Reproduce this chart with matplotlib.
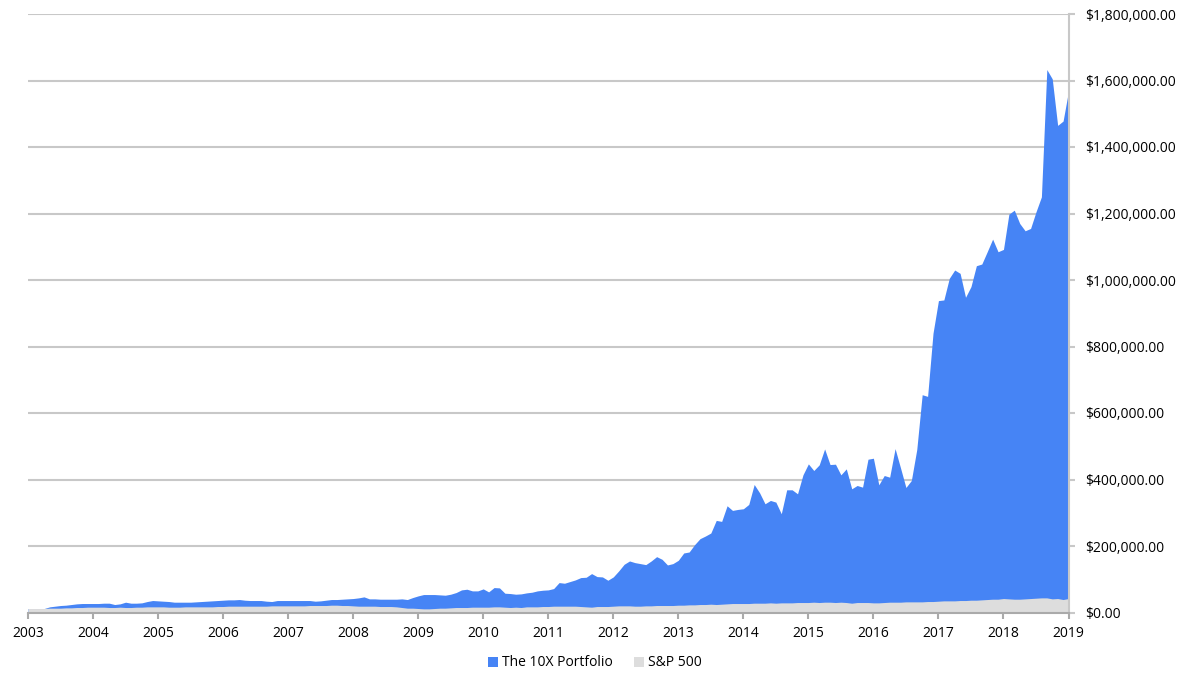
import matplotlib
matplotlib.use("Agg")
import matplotlib.pyplot as plt
from matplotlib.ticker import FuncFormatter, MultipleLocator
from matplotlib.patches import Patch
import numpy as np

# Monthly values (thousands of dollars), Jan 2003 .. Jan 2019
portfolio_k = [
    # 2003
    12, 12, 12, 12, 17, 19, 21, 22, 24, 26, 27, 27,
    # 2004
    27, 27, 28, 28, 24, 26, 31, 28, 28, 29, 33, 36,
    # 2005
    35, 34, 33, 31, 31, 31, 31, 32, 33, 34, 35, 36,
    # 2006
    37, 38, 38, 39, 37, 36, 36, 36, 34, 33, 36, 36,
    # 2007
    36, 36, 36, 36, 36, 34, 35, 37, 39, 39, 40, 41,
    # 2008
    42, 44, 47, 41, 41, 40, 40, 40, 40, 41, 39, 45,
    # 2009
    50, 54, 54, 54, 53, 52, 55, 60, 68, 70, 65, 65,
    # 2010
    71, 62, 75, 74, 58, 57, 55, 56, 59, 61, 65, 67,
    # 2011
    68, 72, 90, 88, 93, 98, 105, 106, 117, 108, 107, 97,
    # 2012
    107, 125, 145, 155, 150, 147, 144, 155, 168, 160, 143, 147,
    # 2013
    157, 179, 182, 204, 222, 230, 239, 277, 274, 321, 307, 310,
    # 2014
    312, 325, 385, 360, 327, 337, 332, 297, 369, 369, 357, 414,
    # 2015
    447, 427, 444, 492, 445, 446, 414, 432, 372, 382, 377, 461,
    # 2016
    464, 384, 412, 407, 493, 435, 376, 397, 490, 655, 650, 840,
    # 2017
    938, 940, 1005, 1030, 1020, 948, 980, 1043, 1048, 1085, 1123, 1085,
    # 2018
    1092, 1198, 1210, 1170, 1148, 1155, 1205, 1250, 1633, 1605, 1465, 1478,
    # 2019
    1568,
]

sp500_k = [
    12, 12, 12, 12, 13, 13, 13, 14, 14, 15, 15, 16,
    16, 16, 16, 15, 15, 16, 15, 15, 16, 16, 17, 17,
    17, 17, 16, 16, 16, 17, 17, 17, 17, 17, 17, 18,
    18, 19, 19, 19, 19, 19, 19, 19, 19, 20, 20, 20,
    20, 20, 20, 20, 21, 21, 21, 21, 22, 22, 21, 21,
    20, 19, 19, 19, 19, 18, 18, 18, 17, 15, 13, 13,
    12, 11, 11, 12, 13, 13, 14, 15, 15, 15, 16, 16,
    16, 16, 17, 17, 16, 15, 16, 15, 17, 17, 17, 18,
    18, 19, 19, 19, 19, 19, 18, 17, 16, 18, 18, 18,
    19, 20, 20, 20, 19, 19, 20, 20, 21, 21, 21, 21,
    22, 22, 23, 23, 24, 24, 25, 24, 25, 26, 27, 27,
    27, 27, 28, 28, 28, 29, 28, 29, 29, 29, 30, 30,
    30, 31, 30, 31, 31, 30, 31, 30, 28, 30, 30, 30,
    29, 29, 30, 31, 31, 31, 32, 32, 32, 32, 33, 33,
    34, 35, 35, 35, 36, 36, 37, 37, 38, 39, 40, 40,
    42, 41, 40, 40, 41, 42, 43, 44, 44, 41, 42, 39,
    42,
]

start_year = 2003
year_ticks = list(range(2003, 2020))
series_names = ["The 10X Portfolio", "S&P 500"]

BLUE = "#4684f5"
GREY = "#dddddd"
GRID = "#c8c8c8"

x = start_year + np.arange(len(portfolio_k)) / 12.0
p = np.array(portfolio_k) * 1000.0
s = np.array(sp500_k) * 1000.0

plt.rcParams['font.family'] = ['Open Sans', 'DejaVu Sans']

fig = plt.figure(figsize=(11.83, 6.83), dpi=100)
W, H = 1183, 683
ax = fig.add_axes([28 / W, (H - 612.5) / H, (1068.5 - 28) / W, (612.5 - 14) / H])

ax.fill_between(x, 0, p, color=BLUE, linewidth=0, zorder=2)
ax.fill_between(x, 0, s, color=GREY, linewidth=0, zorder=3)

ax.set_xlim(2003, 2019)
ax.set_ylim(0, 1800000)
ax.yaxis.set_major_locator(MultipleLocator(200000))
ax.yaxis.set_major_formatter(FuncFormatter(lambda v, pos: "${:,.2f}".format(v)))
ax.yaxis.tick_right()
ax.grid(axis='y', color=GRID, linewidth=1.5, zorder=1)
ax.set_axisbelow(True)

ax.set_xticks(year_ticks)
ax.set_xticklabels([str(y) for y in year_ticks])

for side in ['top', 'left']:
    ax.spines[side].set_visible(False)
ax.spines['right'].set_color(GRID)
ax.spines['right'].set_linewidth(1.5)
ax.spines['bottom'].set_color("#aaaaaa")
ax.spines['bottom'].set_linewidth(1.5)
ax.spines['right'].set_zorder(4)
ax.spines['bottom'].set_zorder(5)

ax.tick_params(axis='y', which='both', length=4, width=1.5, color=GRID,
               pad=8, labelsize=10, labelcolor='black', left=False, right=True)
ax.tick_params(axis='x', length=4, width=1.5, color="#aaaaaa",
               pad=6, labelsize=10, labelcolor='black')

handles = [Patch(facecolor=BLUE, edgecolor='none', label=series_names[0]),
           Patch(facecolor=GREY, edgecolor='none', label=series_names[1])]
fig.legend(handles=handles, loc='center', bbox_to_anchor=(595 / W, 1 - 663 / H),
           ncol=2, frameon=False, fontsize=10, handlelength=0.75, handleheight=0.75,
           handletextpad=0.3, columnspacing=1.5)

fig.savefig("out.png", dpi=100, facecolor='white')
